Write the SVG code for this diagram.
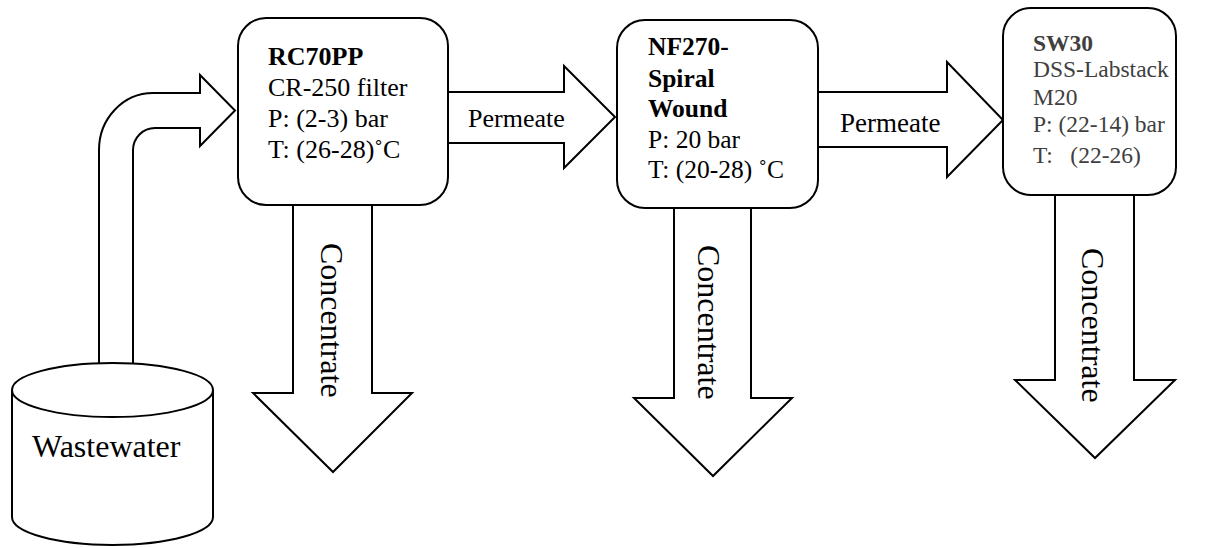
<svg xmlns="http://www.w3.org/2000/svg" width="1227" height="548" viewBox="0 0 1227 548">
<style>
.sh{fill:#fff;stroke:#000;stroke-width:2;stroke-linejoin:miter}
.bx{fill:#fff;stroke:#000;stroke-width:2}
.t{font-family:"Liberation Serif","Times New Roman",serif;fill:#000}
.b{font-weight:bold}
.g{fill:#404040}
</style>
<g id="connectors">
<path id="feed" class="sh" d="M 99 363 L 99 150 A 54 57 0 0 1 153 93 L 200 93 L 200 75 L 235 110.5 L 200 146 L 200 128 L 155 128 A 22 22 0 0 0 133 150 L 133 363"/>
<polygon id="perm1" class="sh" points="448,92 564,92 564,66 615,117 564,168 564,143 448,143"/>
<text class="t" x="468" y="127" font-size="26">Permeate</text>
<polygon id="perm2" class="sh" points="818,92 947,92 947,62 1003,120 947,177 947,147 818,147"/>
<text class="t" x="840" y="132" font-size="27">Permeate</text>
<polygon id="conc1" class="sh" points="293,205 293,393 253,393 333,472 412,393 372,393 372,205"/>
<text class="t" font-size="32" transform="translate(321,243) rotate(90)">Concentrate</text>
<polygon id="conc2" class="sh" points="674,208 674,398 634,398 713,476 792,398 751,398 751,208"/>
<text class="t" font-size="32" transform="translate(698,245) rotate(90)">Concentrate</text>
<polygon id="conc3" class="sh" points="1055,195 1055,380 1015,380 1095,458 1175,380 1134,380 1134,195"/>
<text class="t" font-size="32" transform="translate(1082,248) rotate(90)">Concentrate</text>
</g>
<g id="wastewater">
<path class="bx" d="M 12 390 L 12 517 A 100.5 28 0 0 0 213 517 L 213 390"/>
<ellipse class="bx" cx="112.5" cy="390" rx="100.5" ry="27"/>
<text class="t" x="32" y="457" font-size="32">Wastewater</text>
</g>
<g id="rc70pp">
<rect class="bx" x="238" y="18" width="210" height="187" rx="28" ry="28"/>
<text class="t" font-size="26"><tspan class="b" x="268" y="65">RC70PP</tspan><tspan x="268" y="96">CR-250 filter</tspan><tspan x="268" y="127">P: (2-3) bar</tspan><tspan x="268" y="158">T: (26-28)˚C</tspan></text>
</g>
<g id="nf270">
<rect class="bx" x="617" y="20" width="201" height="188" rx="28" ry="28"/>
<text class="t" font-size="25.5"><tspan class="b" x="648" y="55">NF270-</tspan><tspan class="b" x="648" y="87">Spiral</tspan><tspan class="b" x="648" y="117">Wound</tspan><tspan x="648" y="148">P: 20 bar</tspan><tspan x="648" y="178">T: (20-28) ˚C</tspan></text>
</g>
<g id="sw30">
<rect class="bx" x="1003" y="8" width="173" height="187" rx="28" ry="28"/>
<text class="t g" font-size="23.5" xml:space="preserve"><tspan class="b" x="1033" y="51">SW30</tspan><tspan x="1033" y="77">DSS-Labstack</tspan><tspan x="1033" y="105">M20</tspan><tspan x="1033" y="132">P: (22-14) bar</tspan><tspan x="1033" y="163">T:   (22-26)</tspan></text>
</g>
</svg>
